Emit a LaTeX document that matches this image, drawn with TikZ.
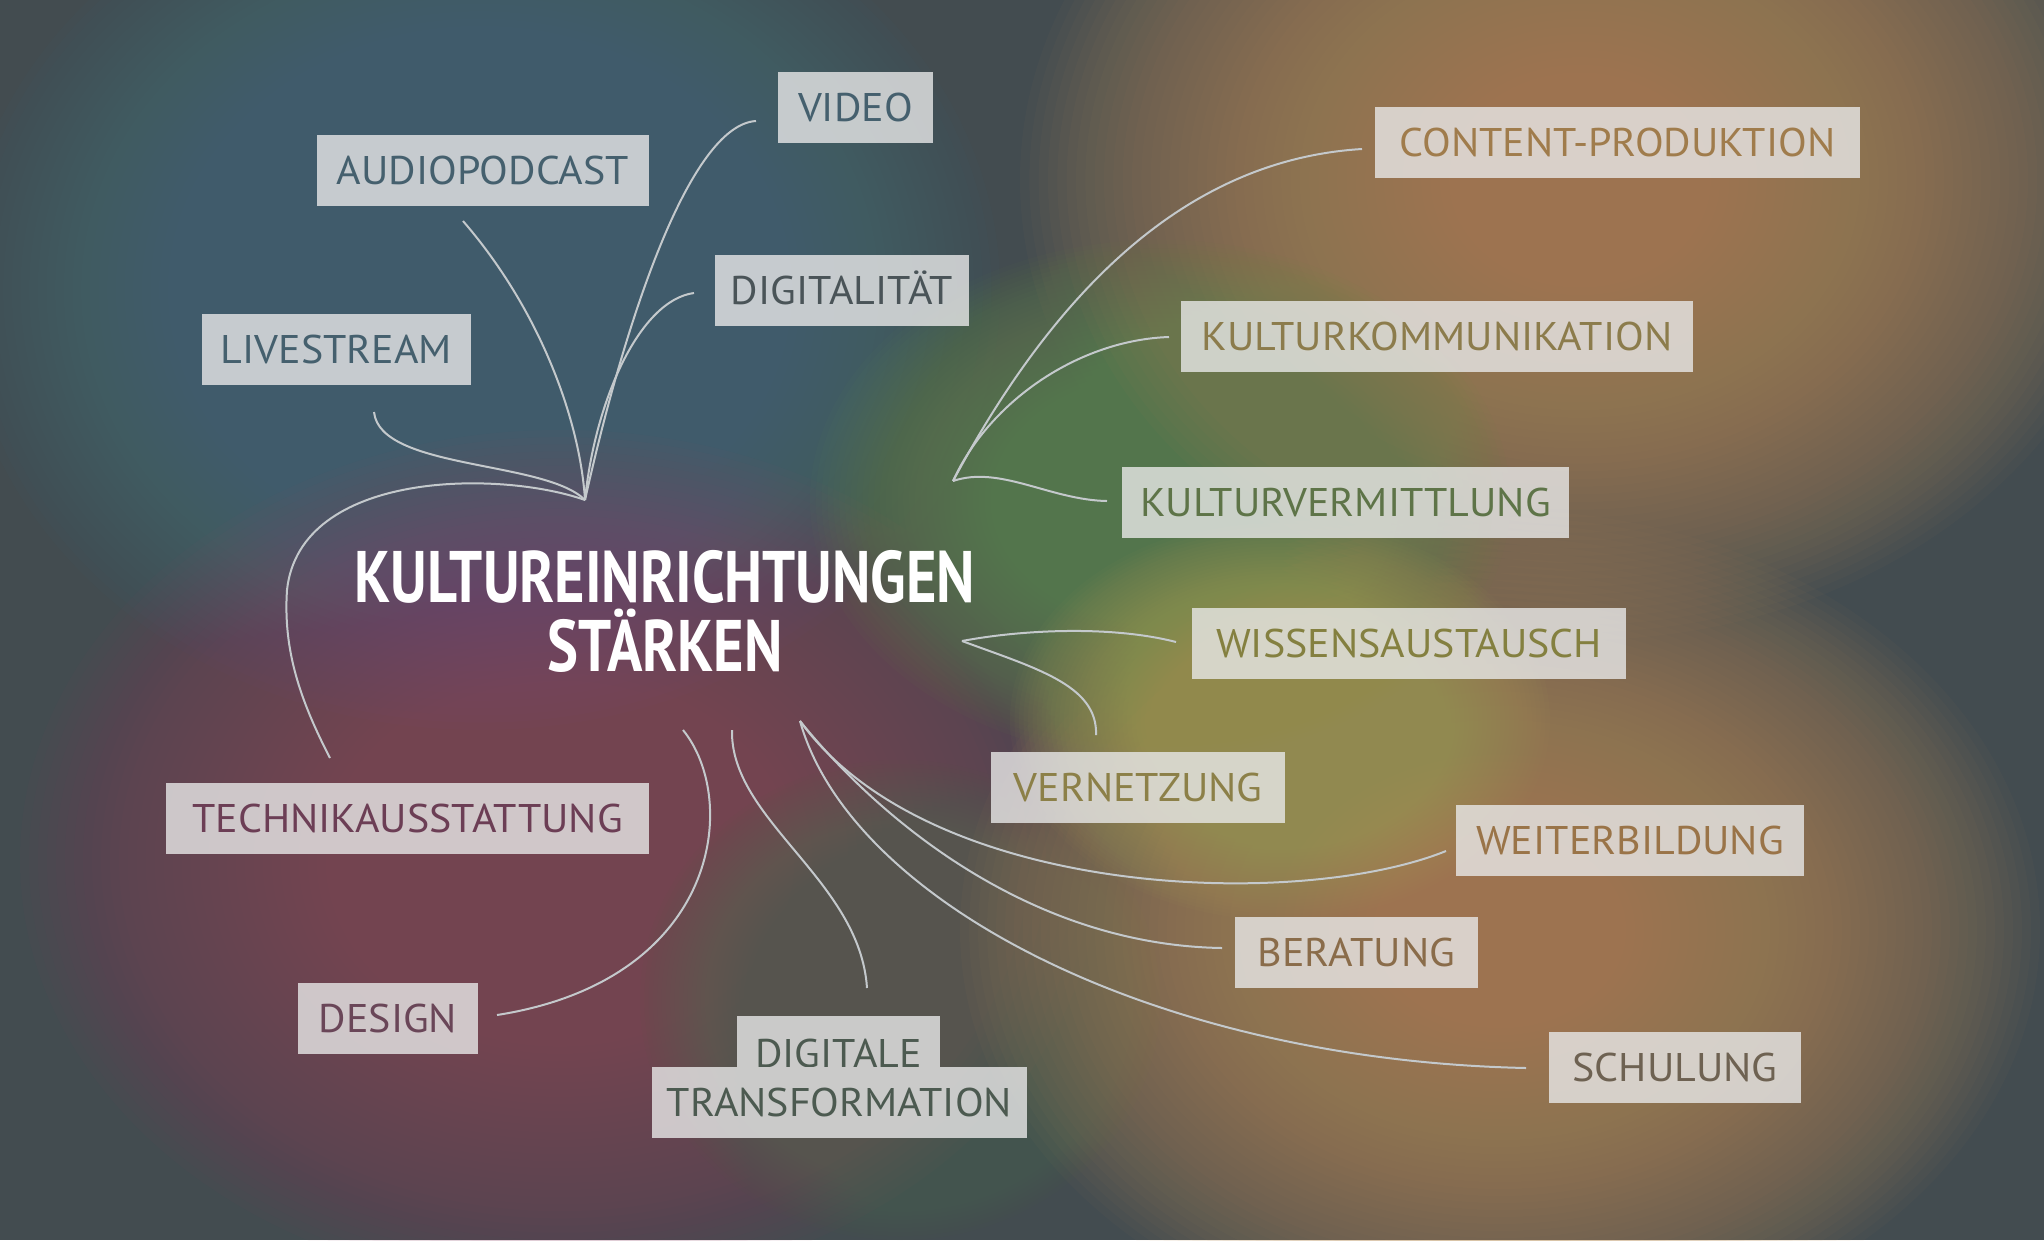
\documentclass[tikz,border=0pt]{standalone}
\usepackage{fontspec}
\setmainfont{PT Sans}
\newfontfamily\labfont{PT Sans}[FakeStretch=1.05]
\newfontfamily\titlefont{PT Sans}[FakeStretch=0.80]
\definecolor{bgc}{HTML}{434C50}
\definecolor{gBlue}{HTML}{407282}
\definecolor{gOrange}{HTML}{B48A52}
\definecolor{gGreen}{HTML}{6A8C4C}
\definecolor{gOlive}{HTML}{A8A052}
\definecolor{gMag}{HTML}{8A4466}
\definecolor{gGreenB}{HTML}{566B4E}
\definecolor{boxc}{HTML}{E8E8E8}
\definecolor{linec}{HTML}{C4C9CC}
\definecolor{tBlue}{HTML}{45606E}
\definecolor{tSlate}{HTML}{4A5458}
\definecolor{tOrange}{HTML}{A07C4C}
\definecolor{tKomm}{HTML}{8C7C4C}
\definecolor{tGreen}{HTML}{5E7448}
\definecolor{tOlive}{HTML}{848040}
\definecolor{tVern}{HTML}{8C8048}
\definecolor{tWeit}{HTML}{9A7448}
\definecolor{tBer}{HTML}{8A6C4A}
\definecolor{tSch}{HTML}{6E6252}
\definecolor{tMag}{HTML}{6C3E55}
\definecolor{tDes}{HTML}{6A4658}
\definecolor{tDT}{HTML}{4C5A50}
\newcommand\labfnt{\labfont\fontsize{40}{48}\selectfont}
\newcommand\titlefnt{\titlefont\fontsize{73}{69}\bfseries\selectfont}
\newcommand\glowblob[5]{%
  \foreach \k in {1,...,60}{%
    \fill[#1, fill opacity=0.044] (#2,#3) ellipse [x radius={#4pt/60*\k}, y radius={#5pt/60*\k}];
  }}
\tikzset{
  lab/.style={fill=boxc, fill opacity=0.8, text opacity=1, inner sep=0pt,
    text height=28pt, text depth=0pt, minimum height=71pt, font=\labfnt},
  conn/.style={draw=linec, line width=2pt},
  ttl/.style={text=white, inner sep=0pt, font=\titlefnt, anchor=base}
}
\begin{document}
\begin{tikzpicture}[x=1pt,y=-1pt]
\useasboundingbox (0,0) rectangle (2044,1240);
\fill[bgc] (0,0) rectangle (2044,1240);
% glows
\glowblob{gBlue}{480}{290}{520}{440}
\glowblob{gMag}{560}{860}{540}{430}
\glowblob{gGreenB}{900}{1000}{260}{240}
\glowblob{gOrange}{1580}{180}{560}{460}
\glowblob{gOrange}{1500}{930}{540}{420}
\glowblob{gGreen}{1160}{500}{350}{260}
\glowblob{gOlive}{1280}{720}{270}{200}

% title
\node[ttl] (title1) at (665,602) {KULTUREINRICHTUNGEN};
\node[ttl] (title2) at (665,671) {STÄRKEN};

% labels
\node[lab, text=tBlue, minimum width=155pt] (video) at (855.5,107.5) {VIDEO};
\node[lab, text=tBlue, minimum width=332pt] (audio) at (483,170.5) {AUDIOPODCAST};
\node[lab, text=tSlate, minimum width=254pt] (digi) at (842,290.5) {DIGITALITÄT};
\node[lab, text=tBlue, minimum width=269pt] (live) at (336.5,349.5) {LIVESTREAM};
\node[lab, text=tOrange, minimum width=485pt] (content) at (1617.5,142.5) {CONTENT-PRODUKTION};
\node[lab, text=tKomm, minimum width=512pt] (komm) at (1437,336.5) {KULTURKOMMUNIKATION};
\node[lab, text=tGreen, minimum width=447pt] (verm) at (1345.5,502) {KULTURVERMITTLUNG};
\node[lab, text=tOlive, minimum width=434pt] (wiss) at (1409,643.5) {WISSENSAUSTAUSCH};
\node[lab, text=tVern, minimum width=294pt] (vern) at (1138,787.5) {VERNETZUNG};
\node[lab, text=tWeit, minimum width=348pt] (weit) at (1630,840.5) {WEITERBILDUNG};
\node[lab, text=tBer, minimum width=243pt] (ber) at (1356.5,952.5) {BERATUNG};
\node[lab, text=tSch, minimum width=252pt] (sch) at (1675,1067.5) {SCHULUNG};
\node[lab, text=tMag, minimum width=483pt] (tech) at (407.5,818.5) {TECHNIKAUSSTATTUNG};
\node[lab, text=tDes, minimum width=180pt] (des) at (388,1018) {DESIGN};
\node[lab, text=tDT, minimum width=203pt, minimum height=51pt, text height=51pt] (dt1) at (838.5,1041.5) {DIGITALE};
\node[lab, text=tDT, minimum width=375pt] (dt2) at (839.5,1102.5) {TRANSFORMATION};

% hubs and free ends
\coordinate (hubA) at (585,500);
\coordinate (hubB) at (953,481);
\coordinate (hubC) at (962,641);
\coordinate (hubD) at (800,721);
\coordinate (sDes) at (683,730);
\coordinate (sDT) at (732,730);
\coordinate (eVideo) at (756,121);
\coordinate (eDigi) at (694,293);
\coordinate (eAudio) at (463,221);
\coordinate (eLive) at (374,412);
\coordinate (eTech) at (330,758);
\coordinate (eContent) at (1362,149);
\coordinate (eKomm) at (1169,337);
\coordinate (eVerm) at (1107,501);
\coordinate (eWiss) at (1176,642);
\coordinate (eVern) at (1096,735);
\coordinate (eWeit) at (1446,851);
\coordinate (eBer) at (1222,948);
\coordinate (eSch) at (1526,1068);
\coordinate (eDes) at (497,1015);
\coordinate (eDT) at (867,988);

% connectors
\draw[conn] (hubA) .. controls (625,320) and (690,125) .. (eVideo);
\draw[conn] (hubA) .. controls (595,400) and (640,300) .. (eDigi);
\draw[conn] (hubA) .. controls (580,420) and (540,310) .. (eAudio);
\draw[conn] (hubA) .. controls (545,460) and (380,470) .. (eLive);
\draw[conn] (hubA) .. controls (500,470) and (300,470) .. (287,590) .. controls (283,650) and (300,700) .. (eTech);
\draw[conn] (hubB) .. controls (1050,300) and (1180,160) .. (eContent);
\draw[conn] (hubB) .. controls (990,400) and (1080,340) .. (eKomm);
\draw[conn] (hubB) .. controls (1000,465) and (1050,500) .. (eVerm);
\draw[conn] (hubC) .. controls (1020,630) and (1110,625) .. (eWiss);
\draw[conn] (hubC) .. controls (1035,668) and (1098,685) .. (eVern);
\draw[conn] (hubD) .. controls (930,900) and (1300,910) .. (eWeit);
\draw[conn] (hubD) .. controls (880,820) and (1030,945) .. (eBer);
\draw[conn] (hubD) .. controls (850,900) and (1150,1060) .. (eSch);
\draw[conn] (sDes) .. controls (740,800) and (720,980) .. (eDes);
\draw[conn] (sDT) .. controls (730,820) and (860,880) .. (eDT);
\end{tikzpicture}
\end{document}
